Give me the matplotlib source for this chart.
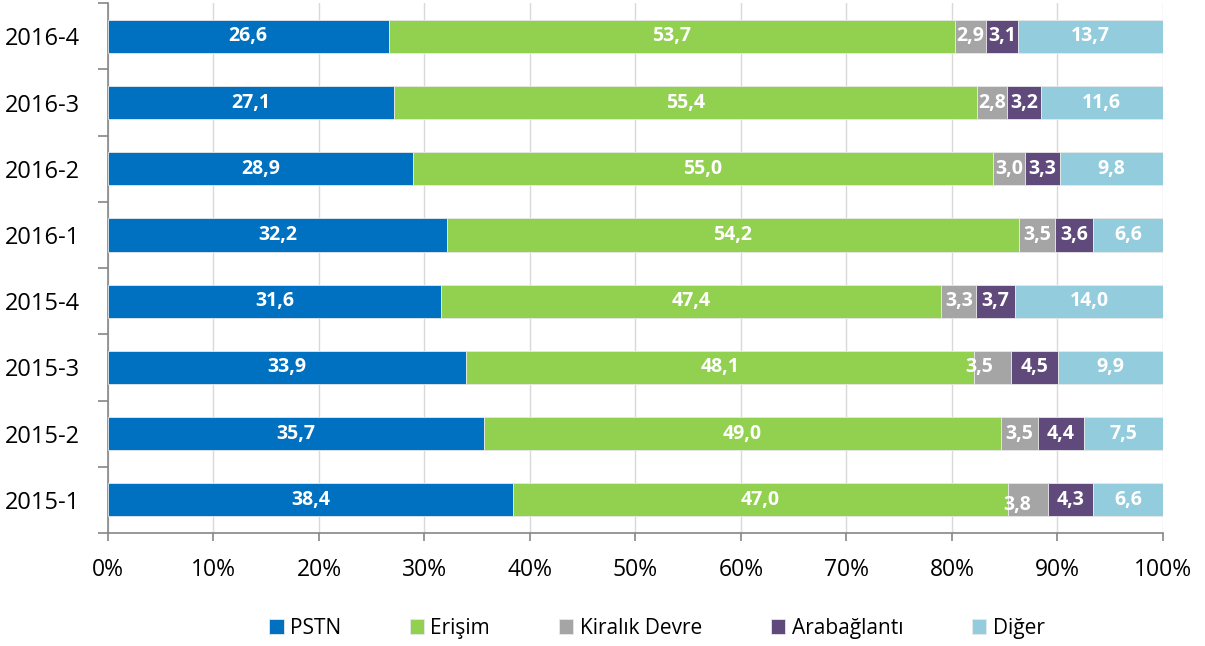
import numpy as np
from matplotlib import pyplot as plt
from matplotlib.ticker import FixedLocator, NullFormatter

plt.rcParams['font.family'] = ['Open Sans', 'DejaVu Sans']

# veriler
periods = ['2015-1', '2015-2', '2015-3', '2015-4', '2016-1', '2016-2', '2016-3', '2016-4']
pstn = [38.4, 35.7, 33.9, 31.6, 32.2, 28.9, 27.1, 26.6]
erisim = [47.0, 49.0, 48.1, 47.4, 54.2, 55.0, 55.4, 53.7]
kiralik = [3.8, 3.5, 3.5, 3.3, 3.5, 3.0, 2.8, 2.9]
arabaglanti = [4.3, 4.4, 4.5, 3.7, 3.6, 3.3, 3.2, 3.1]
diger = [6.6, 7.5, 9.9, 14.0, 6.6, 9.8, 11.6, 13.7]

series = [('PSTN', pstn, '#0070C0'),
          ('Erişim', erisim, '#92D050'),
          ('Kiralık Devre', kiralik, '#A5A5A5'),
          ('Arabağlantı', arabaglanti, '#604A7B'),
          ('Diğer', diger, '#93CDDD')]

fig = plt.figure(figsize=(12.05, 6.46), dpi=100)
ax = fig.add_axes([0.0896, 0.175, 0.8755, 0.82])

y = np.arange(len(periods))
totals = np.sum([s[1] for s in series], axis=0)
left = np.zeros(len(periods))
for name, vals, col in series:
    pct = np.array(vals) / totals * 100
    ax.barh(y, pct, left=left, height=0.5, color=col, edgecolor='#e8e8e8', linewidth=0.6, label=name, zorder=3)
    for i, v in enumerate(vals):
        xc = left[i] + pct[i] / 2
        yc = y[i]
        # Excel'deki kaymis etiketler
        if name == 'Kiralık Devre' and periods[i] == '2015-3':
            xc -= 1.2
        if name == 'Kiralık Devre' and periods[i] == '2015-1':
            xc -= 1.0
            yc -= 0.08
        ax.text(xc, yc, ('%.1f' % v).replace('.', ','), ha='center', va='center',
                color='white', fontsize=14, fontweight='bold', zorder=4)
    left += pct

ax.set_xlim(0, 100)
ax.set_ylim(-0.5, len(periods) - 0.5)
ax.set_xticks(np.arange(0, 101, 10))
ax.set_xticklabels(['%d%%' % t for t in range(0, 101, 10)], fontsize=16.5)
ax.set_yticks(y)
ax.set_yticklabels(periods, fontsize=17)
ax.tick_params(axis='y', length=0, pad=20)
ax.yaxis.set_minor_locator(FixedLocator(np.arange(-0.5, len(periods), 1)))
ax.yaxis.set_minor_formatter(NullFormatter())
ax.tick_params(axis='y', which='minor', length=7, color='#868686', width=1.2)
ax.tick_params(axis='x', length=6, color='#868686', width=1.2, pad=12)
ax.grid(axis='x', color='#d9d9d9', linewidth=1, zorder=0)
for sp in ['top', 'right']:
    ax.spines[sp].set_visible(False)
for sp in ['left', 'bottom']:
    ax.spines[sp].set_color('#868686')
    ax.spines[sp].set_linewidth(1.2)

fig.legend(loc='center', bbox_to_anchor=(0.545, 0.027), ncol=5, frameon=False,
           fontsize=15, handlelength=0.7, handleheight=0.7, handletextpad=0.3,
           columnspacing=3.3)

plt.savefig('out.png', dpi=100)
